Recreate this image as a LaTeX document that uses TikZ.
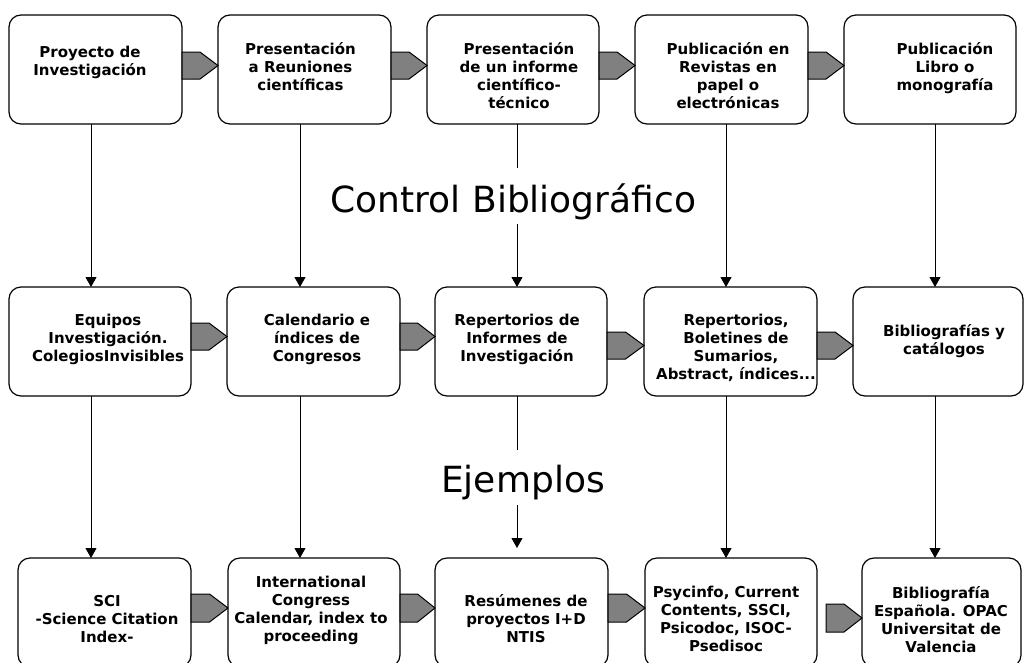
\documentclass[tikz,border=0pt]{standalone}
\usepackage{fontspec}
\setmainfont{DejaVu Sans}
\usetikzlibrary{arrows.meta}
\definecolor{arrowgray}{RGB}{128,128,128}
\tikzset{
  box/.style={draw, line width=1.2pt, rounded corners=12pt, inner sep=0pt, outer sep=0pt, fill=white},
  boxtext/.style={font=\bfseries\fontsize{15}{18}\selectfont, align=center, inner sep=0pt, anchor=north},
  bigtext/.style={font=\fontsize{36}{43}\selectfont, inner sep=0pt, anchor=base},
  plainline/.style={draw, line width=1pt},
  conn/.style={draw, line width=1pt, -{Triangle[length=10pt,width=11pt]}},
  garrowstyle/.style={draw, line width=1pt, fill=arrowgray, line join=miter}
}
\newcommand\garrow[4]{%
  \draw[garrowstyle] (#1,#3) -- ({(#1+#2)/2},#3) -- (#2,{(#3+#4)/2}) -- ({(#1+#2)/2},#4) -- (#1,#4) -- cycle;}
\newcommand\boxnode[5]{%
  \node[box, minimum width={#3-#2}, minimum height={#5-#4}] (#1) at ({(#2+#3)/2},{(#4+#5)/2}) {};}
\begin{document}
\begin{tikzpicture}[x=1pt,y=-1pt]
\useasboundingbox (0,0) rectangle (1025,662);
\clip (0,0) rectangle (1025,662);
\fill[white] (0,0) rectangle (1025,662);

% column coordinates
\coordinate (c1) at (91,0);
\coordinate (c2) at (300,0);
\coordinate (c3) at (517,0);
\coordinate (c4) at (726,0);
\coordinate (c5) at (935,0);

% boxes row 1
\boxnode{b11}{9}{182}{15}{124}
\boxnode{b12}{218}{391}{15}{124}
\boxnode{b13}{427}{599}{15}{124}
\boxnode{b14}{635}{808}{15}{124}
\boxnode{b15}{844}{1016}{15}{124}
% row 2
\boxnode{b21}{9}{191}{287}{396}
\boxnode{b22}{227}{400}{287}{396}
\boxnode{b23}{435}{607}{287}{396}
\boxnode{b24}{644}{817}{287}{396}
\boxnode{b25}{853}{1023}{287}{396}
% row 3
\boxnode{b31}{18}{191}{558}{667}
\boxnode{b32}{228}{400}{558}{667}
\boxnode{b33}{435}{608}{558}{667}
\boxnode{b34}{645}{817}{558}{667}
\boxnode{b35}{862}{1021}{558}{667}

% texts row 1
\node[boxtext] (t11) at (90,46) {Proyecto de\\Investigación};
\node[boxtext] (t12) at (300.5,42) {Presentación\\a Reuniones\\científicas};
\node[boxtext] (t13) at (519,42) {Presentación\\de un informe\\científico-\\técnico};
\node[boxtext] (t14) at (728,42) {Publicación en\\Revistas en\\papel o\\electrónicas};
\node[boxtext] (t15) at (945,42) {Publicación\\Libro o\\monografía};
% texts row 2
\node[boxtext] (t21) at (108,314) {Equipos\\Investigación.\\ColegiosInvisibles};
\node[boxtext] (t22) at (317,314) {Calendario e\\índices de\\Congresos};
\node[boxtext] (t23) at (517,314) {Repertorios de\\Informes de\\Investigación};
\node[boxtext] (t24) at (736,314) {Repertorios,\\Boletines de\\Sumarios,\\Abstract, índices...};
\node[boxtext] (t25) at (944,324) {Bibliografías y\\catálogos};
% texts row 3
\node[boxtext] (t31) at (107,595) {SCI\\-Science Citation\\Index-};
\node[boxtext] (t32) at (311,576) {International\\Congress\\Calendar, index to\\proceeding};
\node[boxtext] (t33) at (526,594) {Resúmenes de\\proyectos I+D\\NTIS};
\node[boxtext] (t34) at (726,586) {Psycinfo, Current\\Contents, SSCI,\\Psicodoc, ISOC-\\Psedisoc};
\node[boxtext] (t35) at (941,586) {Bibliografía\\Española. OPAC\\Universitat de\\Valencia};

% big labels
\node[bigtext] (ctrl) at (513.5,212) {Control Bibliográfico};
\node[bigtext] (ejem) at (523,492) {Ejemplos};

% gray block arrows
\garrow{182}{218}{52}{79}
\garrow{391}{427}{52}{79}
\garrow{599}{635}{52}{79}
\garrow{808}{844}{52}{79}
\garrow{191}{227}{323}{350}
\garrow{400}{435}{323}{350}
\garrow{607}{644}{332}{359}
\garrow{817}{853}{332}{359}
\garrow{191}{228}{594}{622}
\garrow{400}{435}{594}{622}
\garrow{608}{645}{594}{622}
\garrow{826}{862}{604}{632}

% vertical connectors row 1 -> row 2
\coordinate (g1) at (517,168);
\coordinate (g2) at (517,224);
\draw[conn] (b11.south -| c1) -- (b21.north -| c1);
\draw[conn] (b12.south -| c2) -- (b22.north -| c2);
\draw[plainline] (b13.south -| c3) -- (g1);
\draw[conn] (g2) -- (b23.north -| c3);
\draw[conn] (b14.south -| c4) -- (b24.north -| c4);
\draw[conn] (b15.south -| c5) -- (b25.north -| c5);

% vertical connectors row 2 -> row 3
\coordinate (g3) at (517,450);
\coordinate (g4) at (517,505);
\coordinate (g5) at (517,548);
\draw[conn] (b21.south -| c1) -- (b31.north -| c1);
\draw[conn] (b22.south -| c2) -- (b32.north -| c2);
\draw[plainline] (b23.south -| c3) -- (g3);
\draw[conn] (g4) -- (g5);
\draw[conn] (b24.south -| c4) -- (b34.north -| c4);
\draw[conn] (b25.south -| c5) -- (b35.north -| c5);
\end{tikzpicture}
\end{document}
